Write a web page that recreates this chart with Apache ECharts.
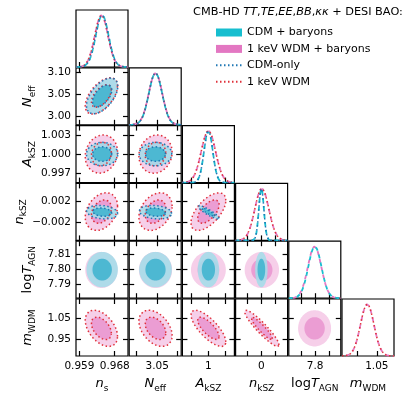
<!DOCTYPE html>
<html>
<head>
<meta charset="utf-8">
<script src="https://cdn.jsdelivr.net/npm/echarts@6.0.0/dist/echarts.min.js"></script>
<style>
  html, body { margin: 0; padding: 0; background: #fff; }
  #chart { width: 415px; height: 405px; }
</style>
</head>
<body>
<div id="chart"></div>
<script>
// ---- parameters (n_s, N_eff, A_kSZ, n_kSZ, logT_AGN, m_WDM)
const paramLabels = ['{i|n}{s|s}', '{i|N}{s|eff}', '{i|A}{s|kSZ}', '{i|n}{s|kSZ}', '{r|log}{i|T}{s|AGN}', '{i|m}{s|WDM}'];
const axisMin = [0.95813, 2.9816, 0.99543, -0.0054, 7.7812, 0.869];
const axisMax = [0.97138, 3.1089, 1.00457, 0.0055, 7.8183, 1.139];

const xTicks = [[0.959, 0.968], [3.00, 3.05, 3.10], [0.997, 1.000, 1.003], [-0.003, 0, 0.003], [7.79, 7.80, 7.81], [0.95, 1.05]];
const xLabelValues = [[0.959, 0.968], [3.05], [1.000], [0], [7.80], [1.05]];
const xLabelText = [['0.959', '0.968'], ['3.05'], ['1'], ['0'], ['7.8'], ['1.05']];
const yTicks = [[], [3.00, 3.05, 3.10], [0.997, 1.000, 1.003], [-0.002, 0.002], [7.79, 7.80, 7.81], [0.95, 1.05]];
const yLabelText = [[], ['3.00', '3.05', '3.10'], ['0.997', '1.000', '1.003'], ['\u22120.002', '0.002'], ['7.79', '7.80', '7.81'], ['0.95', '1.05']];

// ---- posterior summaries (null = parameter not in model)
const cdmbMean  = [0.9648, 3.046, 1.0000, 0.0000, 7.7998, null];
const cdmbSigma = [0.00163, 0.0163, 0.00077, 0.00053, 0.0047, null];
const cdmbCorr = [
  [1],
  [0.55, 1],
  [0.00, 0.00, 1],
  [-0.20, -0.20, -0.90, 1],
  [0, 0, 0, 0, 1]
];
const wdmbMean  = [0.9646, 3.046, 1.0000, 0.0001, 7.7996, 1.000];
const wdmbSigma = [0.00168, 0.0166, 0.00125, 0.00147, 0.0048, 0.035];
const wdmbCorr = [
  [1],
  [0.55, 1],
  [0.12, 0.10, 1],
  [0.30, 0.30, 0.60, 1],
  [0, 0, 0, 0, 1],
  [-0.45, -0.40, -0.75, -0.92, 0, 1]
];
const cdmMean  = [0.9648, 3.046, 1.0000, 0.0000, null, null];
const cdmSigma = [0.00163, 0.0163, 0.00077, 0.00053, null, null];
const cdmCorr = cdmbCorr;
const wdmMean  = [0.9646, 3.046, 1.0000, 0.0001, null, 1.000];
const wdmSigma = [0.00168, 0.0166, 0.00125, 0.00147, null, 0.035];
const wdmCorr = wdmbCorr;

const contourLevels = [2.45, 1.515]; // 95%, 68% (2D)

const filledModels = [
  { name: '1 keV WDM + baryons', mean: wdmbMean, sigma: wdmbSigma, corr: wdmbCorr, color: '#e377c2', fills: ['#f6cfe9', '#eb9dd3'], dash: [4, 4], dashOffset: 4 },
  { name: 'CDM + baryons', mean: cdmbMean, sigma: cdmbSigma, corr: cdmbCorr, color: '#17becf', fills: ['rgba(166,219,233,0.9)', 'rgba(72,182,209,0.95)'], dash: [4, 4], dashOffset: 0 }
];
const lineModels = [
  { name: '1 keV WDM', mean: wdmMean, sigma: wdmSigma, corr: wdmCorr, color: '#e0303a' },
  { name: 'CDM-only', mean: cdmMean, sigma: cdmSigma, corr: cdmCorr, color: '#1f77b4' }
];

// ---- layout
const NP = 6;
const colLeft = c => 76 + c * 53.2;
const rowTop = r => 10 + r * 57.8;
const PW = 52, PH = 57;
const FONT = 'DejaVu Sans';

const nameRich = {
  i: { fontFamily: FONT, fontStyle: 'italic', fontSize: 13, color: '#000', lineHeight: 18 },
  r: { fontFamily: FONT, fontSize: 13, color: '#000', lineHeight: 18 },
  s: { fontFamily: FONT, fontSize: 9, color: '#000', lineHeight: 9, verticalAlign: 'bottom' }
};

function pick(values, texts, v) {
  let best = 0;
  values.forEach((t, k) => { if (Math.abs(t - v) < Math.abs(values[best] - v)) best = k; });
  return texts[best];
}

function ellipse(mx, my, sx, sy, rho, k) {
  const pts = [];
  const n = 96;
  const q = Math.sqrt(1 - rho * rho);
  for (let i = 0; i <= n; i++) {
    const t = 2 * Math.PI * i / n;
    pts.push([mx + k * sx * Math.cos(t), my + k * sy * (rho * Math.cos(t) + q * Math.sin(t))]);
  }
  return pts;
}

const grids = [], xAxes = [], yAxes = [], series = [];
const tickStyle = { show: true, inside: true, length: 5, lineStyle: { color: '#000', width: 1.2 } };

function addGrid(r, c) {
  grids.push({
    left: colLeft(c), top: rowTop(r), width: PW, height: PH,
    show: true, borderColor: '#000', borderWidth: 1.2, backgroundColor: 'rgba(0,0,0,0)'
  });
  return grids.length - 1;
}

function xAxis(gi, p, position, showLabel, showName) {
  xAxes.push({
    type: 'value', gridIndex: gi, position: position, min: axisMin[p], max: axisMax[p],
    axisLine: { show: false, onZero: false }, splitLine: { show: false },
    axisTick: Object.assign({ customValues: xTicks[p] }, tickStyle),
    axisLabel: {
      show: showLabel, customValues: xLabelValues[p], margin: 5,
      fontFamily: FONT, fontSize: 10.5, color: '#000',
      formatter: v => pick(xLabelValues[p], xLabelText[p], v)
    },
    name: showName ? paramLabels[p] : '', nameLocation: 'middle', nameGap: 19,
    nameTextStyle: { rich: nameRich }
  });
  return xAxes.length - 1;
}

function yAxis(gi, p, position, showLabel, showName) {
  yAxes.push({
    type: 'value', gridIndex: gi, position: position, min: axisMin[p], max: axisMax[p],
    axisLine: { show: false, onZero: false }, splitLine: { show: false },
    axisTick: Object.assign({ customValues: yTicks[p] }, tickStyle),
    axisLabel: {
      show: showLabel, customValues: yTicks[p], margin: 5,
      fontFamily: FONT, fontSize: 10.5, color: '#000',
      formatter: v => pick(yTicks[p], yLabelText[p], v)
    },
    name: showName ? paramLabels[p] : '', nameLocation: 'middle', nameGap: 39, nameRotate: 90,
    nameTextStyle: { rich: nameRich }
  });
  return yAxes.length - 1;
}

// ---- 2D panels
for (let r = 1; r < NP; r++) {
  for (let c = 0; c < r; c++) {
    const gi = addGrid(r, c);
    const xi = xAxis(gi, c, 'bottom', r === NP - 1, r === NP - 1);
    xAxis(gi, c, 'top', false, false);
    const yi = yAxis(gi, r, 'left', c === 0, c === 0);
    yAxis(gi, r, 'right', false, false);

    filledModels.forEach(m => {
      if (m.mean[c] === null || m.mean[r] === null) return;
      const shapes = contourLevels.map(k => ellipse(m.mean[c], m.mean[r], m.sigma[c], m.sigma[r], m.corr[r][c], k));
      series.push({
        type: 'custom', name: m.name, xAxisIndex: xi, yAxisIndex: yi, silent: true,
        itemStyle: { color: m.color },
        data: shapes.map(() => [m.mean[c], m.mean[r]]),
        renderItem: (params, api) => ({
          type: 'polygon',
          shape: { points: shapes[params.dataIndex].map(pt => api.coord(pt)) },
          style: { fill: m.fills[params.dataIndex], stroke: null }
        })
      });
    });
    lineModels.forEach(m => {
      if (m.mean[c] === null || m.mean[r] === null) return;
      contourLevels.forEach(k => {
        series.push({
          type: 'line', name: m.name, xAxisIndex: xi, yAxisIndex: yi, silent: true,
          symbol: 'none', color: m.color,
          lineStyle: { color: m.color, width: 1.5, type: [1.5, 2.5] },
          data: ellipse(m.mean[c], m.mean[r], m.sigma[c], m.sigma[r], m.corr[r][c], k)
        });
      });
    });
  }
}

// ---- 1D panels
for (let d = 0; d < NP; d++) {
  const gi = addGrid(d, d);
  const xi = xAxis(gi, d, 'bottom', d === NP - 1, d === NP - 1);
  yAxes.push({ type: 'value', gridIndex: gi, min: 0, max: 1.1, show: false });
  const yi = yAxes.length - 1;
  const curve = (mu, sd) => {
    const pts = [];
    for (let i = 0; i <= 160; i++) {
      const x = axisMin[d] + (axisMax[d] - axisMin[d]) * i / 160;
      pts.push([x, Math.exp(-0.5 * ((x - mu) / sd) ** 2)]);
    }
    return pts;
  };
  filledModels.forEach(m => {
    if (m.mean[d] === null) return;
    series.push({
      type: 'line', name: m.name, xAxisIndex: xi, yAxisIndex: yi, silent: true,
      symbol: 'none', color: m.color,
      lineStyle: { color: m.color, width: 1.8, type: m.dash, dashOffset: m.dashOffset },
      data: curve(m.mean[d], m.sigma[d])
    });
  });
  lineModels.forEach(m => {
    if (m.mean[d] === null) return;
    series.push({
      type: 'line', name: m.name, xAxisIndex: xi, yAxisIndex: yi, silent: true,
      symbol: 'none', color: m.color,
      lineStyle: { color: m.color, width: 1.5, type: [1.5, 2.5] },
      data: curve(m.mean[d], m.sigma[d])
    });
  });
}

const chart = echarts.init(document.getElementById('chart'), null, { renderer: 'canvas' });
chart.setOption({
  animation: false,
  backgroundColor: '#fff',
  title: {
    text: '{n|CMB-HD }{i|TT}{n|,}{i|TE}{n|,}{i|EE}{n|,}{i|BB}{n|,}{i|\u03ba\u03ba}{n| + DESI BAO:}',
    left: 193, top: 7, padding: 0,
    textStyle: {
      fontWeight: 'normal',
      rich: {
        n: { fontFamily: FONT, fontSize: 11.3, fontWeight: 'normal', color: '#000' },
        i: { fontFamily: FONT, fontSize: 11.3, fontWeight: 'normal', fontStyle: 'italic', color: '#000' }
      }
    }
  },
  legend: {
    left: 215, top: 26, orient: 'vertical', padding: 0,
    itemWidth: 26, itemHeight: 8, itemGap: 3.4,
    textStyle: { fontFamily: FONT, fontSize: 11, color: '#000', lineHeight: 13 },
    data: [
      { name: 'CDM + baryons', icon: 'rect' },
      { name: '1 keV WDM + baryons', icon: 'rect' },
      { name: 'CDM-only', itemStyle: { opacity: 0 } },
      { name: '1 keV WDM', itemStyle: { opacity: 0 } }
    ]
  },
  grid: grids,
  xAxis: xAxes,
  yAxis: yAxes,
  series: series
});
</script>
</body>
</html>
